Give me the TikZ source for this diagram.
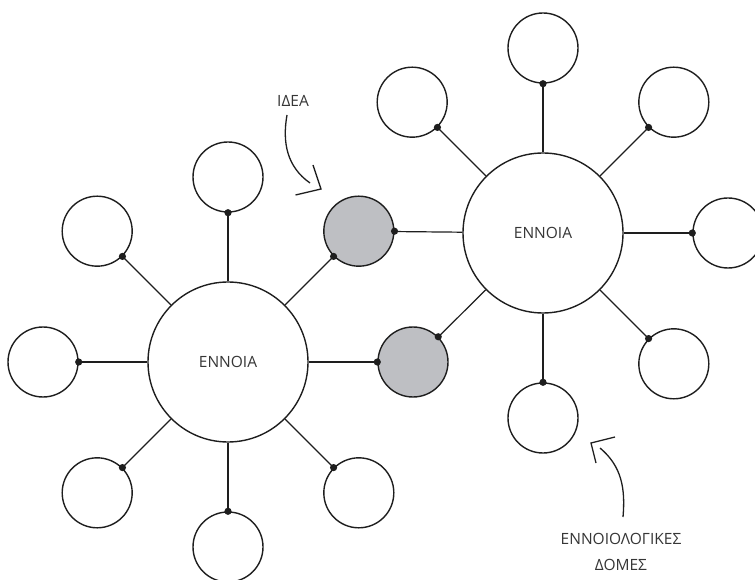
\documentclass[tikz,border=0pt]{standalone}
\usepackage{fontspec}
\setmainfont{Open Sans}
\usetikzlibrary{calc}
\definecolor{inkline}{HTML}{1E1E1E}
\definecolor{labelgray}{HTML}{363636}
\definecolor{sharedfill}{HTML}{BEBFC3}
\begin{document}
\begin{tikzpicture}[x=1pt,y=1pt,
  hub/.style={circle,draw=inkline,line width=1.4pt,minimum size=160pt,inner sep=0pt,
    font=\fontsize{15.5}{18}\selectfont,text=labelgray},
  leaf/.style={circle,draw=inkline,line width=1.4pt,minimum size=70pt,inner sep=0pt,fill=white},
  shared/.style={leaf,fill=sharedfill},
  spoke/.style={draw=inkline,line width=1.2pt},
  joint/.style={fill=inkline},
  note/.style={font=\fontsize{15.5}{26}\selectfont,text=labelgray,align=center},
  pointer/.style={draw=inkline,line width=1.3pt}]
\useasboundingbox (0,0) rectangle (755,579);

% the two concept hubs
\node[hub] (L) at (228,217) {ΕΝΝΟΙΑ};
\node[hub] (R) at (543,346) {ΕΝΝΟΙΑ};

% circles shared by both hubs
\node[shared] (g1) at ($(L)+(45:185)$) {};
\node[shared] (g2) at ($(L)+(0:185)$) {};

% circles around the left hub
\foreach \a in {90,135,180,225,270,315} {
  \node[leaf] (l\a) at ($(L)+(\a:185)$) {};
  \draw[spoke] (L) -- (l\a);
  \fill[joint] (l\a.\a+180) circle (3.6);
}
\draw[spoke] (L) -- (g1);
\fill[joint] (g1.225) circle (3.6);
\draw[spoke] (L) -- (g2);
\fill[joint] (g2.180) circle (3.6);

% circles around the right hub
\foreach \a in {90,45,0,135,270,315} {
  \node[leaf] (r\a) at ($(R)+(\a:185)$) {};
  \draw[spoke] (R) -- (r\a);
  \fill[joint] (r\a.\a+180) circle (3.6);
}
\draw[spoke] (R) -- (g1);
\fill[joint] (g1.0) circle (3.6);
\draw[spoke] (R) -- (g2);
\fill[joint] (g2.45) circle (3.6);

% annotation: idea
\node[note] (idea) at (293,478) {ΙΔΕΑ};
\coordinate (ia) at (287,464);
\coordinate (ib) at (310,396);
\coordinate (itip) at (321,390);
\draw[pointer] (ia) to[out=-100,in=145] (ib);
\draw[pointer] ($(itip)+(-8,24)$) -- (itip) -- ($(itip)+(-25.5,-6)$);

% annotation: concept structures
\node[note] (struct) at (621,27) {ΕΝΝΟΙΟΛΟΓΙΚΕΣ\\ΔΟΜΕΣ};
\coordinate (sa) at (623,62);
\coordinate (sb) at (600,131);
\coordinate (stip) at (591,136);
\draw[pointer] (sa) to[out=85,in=-40] (sb);
\draw[pointer] ($(stip)+(24,6)$) -- (stip) -- ($(stip)+(5,-20)$);
\end{tikzpicture}
\end{document}
